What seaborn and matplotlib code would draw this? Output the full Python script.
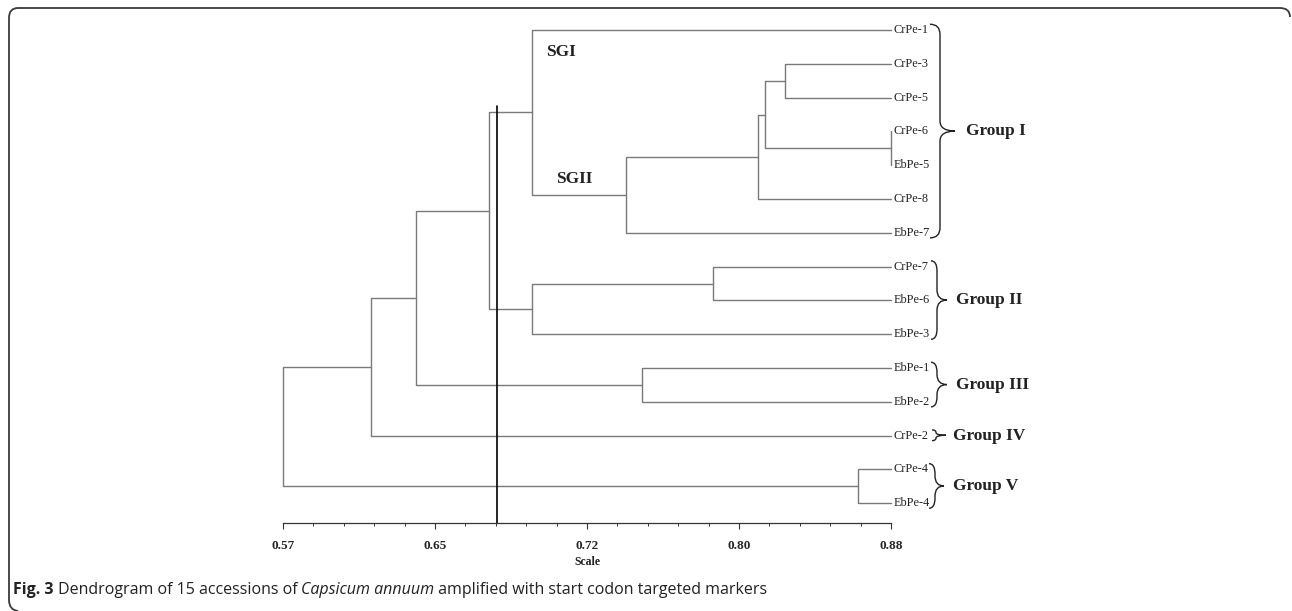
import numpy as np
import pandas as pd
import matplotlib
matplotlib.use("Agg")
import matplotlib.pyplot as plt
import matplotlib.transforms as mtransforms
from matplotlib.path import Path
from matplotlib.patches import PathPatch
import seaborn as sns

# ---------------- data ----------------
leaves = ["CrPe-1", "CrPe-3", "CrPe-5", "CrPe-6", "EbPe-5", "CrPe-8", "EbPe-7",
          "CrPe-7", "EbPe-6", "EbPe-3", "EbPe-1", "EbPe-2", "CrPe-2", "CrPe-4", "EbPe-4"]
node_names = ["m1", "m2", "m3", "m4", "m5", "m6", "m7", "m8", "m9", "m10", "m11", "m12", "m13", "m14"]
node_left = ["CrPe-6", "CrPe-3", "m2", "m3", "m4", "CrPe-1", "CrPe-7", "m7", "m6", "EbPe-1", "m9", "m11", "CrPe-4", "m12"]
node_right = ["EbPe-5", "CrPe-5", "m1", "CrPe-8", "EbPe-7", "m5", "EbPe-6", "EbPe-3", "m8", "EbPe-2", "m10", "CrPe-2", "EbPe-4", "m13"]
node_sim = [0.880, 0.826, 0.816, 0.812, 0.745, 0.697, 0.789, 0.697, 0.675, 0.753, 0.638, 0.615, 0.863, 0.570]
leaf_sim = 0.88
cut_value = 0.679

tick_values = [0.57, 0.6475, 0.725, 0.8025, 0.88]
tick_labels = ["0.57", "0.65", "0.72", "0.80", "0.88"]

group_names = ["Group I", "Group II", "Group III", "Group IV", "Group V"]
group_first = [0, 7, 10, 12, 13]
group_last = [6, 9, 11, 12, 14]

subgroup_names = ["SGI", "SGII"]

# ---------------- geometry of the tree ----------------
pos = {name: (leaf_sim, float(i)) for i, name in enumerate(leaves)}
rows = []
for k, (nm, a, b, s) in enumerate(zip(node_names, node_left, node_right, node_sim)):
    xa, ya = pos[a]
    xb, yb = pos[b]
    pts = [(xa, ya), (s, ya), (s, yb), (xb, yb)]
    for j, (px, py) in enumerate(pts):
        rows.append({"seg": k, "order": j, "x": px, "y": py})
    pos[nm] = (s, (ya + yb) / 2.0)
df = pd.DataFrame(rows)

# ---------------- figure ----------------
sns.set_theme(style="white")
plt.rcParams["font.family"] = ["Liberation Serif", "DejaVu Serif"]

W, H = 1292, 611
fig = plt.figure(figsize=(W / 100, H / 100), dpi=100)
fig.patch.set_facecolor("white")

y0px, dy = 30.0, 33.8
ax_top_px, ax_bot_px = 20.0, 523.0
ax = fig.add_axes([283 / W, 1 - ax_bot_px / H, 608 / W, (ax_bot_px - ax_top_px) / H])
ax.set_facecolor("none")

sns.lineplot(data=df, x="x", y="y", units="seg", estimator=None, sort=False,
             color="#7a7a7a", linewidth=1.0, ax=ax, legend=False)
for ln in ax.lines:
    ln.set_clip_on(False)

ax.set_xlim(0.57, 0.88)
ax.set_ylim((ax_bot_px - y0px) / dy, (ax_top_px - y0px) / dy)

# cut line
ax.plot([cut_value, cut_value], [(106 - y0px) / dy, (ax_bot_px - y0px) / dy],
        color="black", linewidth=1.2, clip_on=False)

for sp in ["top", "right", "left"]:
    ax.spines[sp].set_visible(False)
ax.spines["bottom"].set_color("#333333")
ax.spines["bottom"].set_linewidth(0.9)
ax.set_yticks([])
ax.set_xticks(tick_values)
ax.set_xticks(np.linspace(0.57, 0.88, 21), minor=True)
ax.set_xticklabels(tick_labels, fontfamily="Liberation Serif", fontweight="bold", fontsize=9.5)
ax.tick_params(axis="x", which="major", direction="out", length=4, width=0.8,
               color="#333333", pad=8, bottom=True)
ax.tick_params(axis="x", which="minor", direction="out", length=2.2, width=0.7,
               color="#333333", bottom=True)
ax.set_xlabel("")
ax.set_ylabel("")

bt = mtransforms.blended_transform_factory(fig.transFigure, ax.transData)

# leaf labels
for i, name in enumerate(leaves):
    ax.text(894 / W, i, name, transform=bt, ha="left", va="center",
            fontsize=8.8, color="#222222", fontfamily="Liberation Serif")

# braces and group labels
brace_x = [(930, 940, 955), (931, 937, 947), (931, 937, 947), (932, 936, 946), (929, 935, 944)]
label_x = [966, 956, 956, 953, 953]


def brace(ytop, ybot, xe, xm, xt, r):
    yc = (ytop + ybot) / 2.0
    r = min(r, (ybot - ytop) / 4.0)
    f = lambda v: v / W
    verts = [(f(xe), ytop), (f(xm), ytop), (f(xm), ytop + r),
             (f(xm), yc - r),
             (f(xm), yc), (f(xt), yc),
             (f(xm), yc), (f(xm), yc + r),
             (f(xm), ybot - r),
             (f(xm), ybot), (f(xe), ybot)]
    codes = [Path.MOVETO, Path.CURVE3, Path.CURVE3,
             Path.LINETO,
             Path.CURVE3, Path.CURVE3,
             Path.CURVE3, Path.CURVE3,
             Path.LINETO,
             Path.CURVE3, Path.CURVE3]
    p = PathPatch(Path(verts, codes), transform=bt, fill=False, edgecolor="#222222",
                  linewidth=1.0, clip_on=False)
    fig.add_artist(p)


for gname, a, b, (xe, xm, xt), lx in zip(group_names, group_first, group_last, brace_x, label_x):
    ytop = a - 0.17
    ybot = b + 0.15
    brace(ytop, ybot, xe, xm, xt, 0.3)
    ax.text(lx / W, (a + b) / 2.0, gname, transform=bt, ha="left", va="center",
            fontsize=12.5, fontweight="bold", color="#222222", fontfamily="Liberation Serif")

# subgroup labels
sg_pos = [(546, 52), (556, 179)]
for nm, (px, py) in zip(subgroup_names, sg_pos):
    ax.text(px / W, (py - y0px) / dy, nm, transform=bt, ha="left", va="center",
            fontsize=12.5, fontweight="bold", color="#222222", fontfamily="Liberation Serif")

# axis title
fig.text(587 / W, 1 - 562 / H, "Scale", ha="center", va="center", fontsize=8.5,
         fontweight="bold", fontfamily="Liberation Serif", color="#222222")

# frame
fv = lambda x, y: (x / W, 1 - y / H)
frame_verts = [fv(1290, 17), fv(1290, 8), fv(1280, 8),
               fv(18, 8),
               fv(9, 8), fv(9, 18),
               fv(9, 600),
               fv(9, 610), fv(18, 611)]
frame_codes = [Path.MOVETO, Path.CURVE3, Path.CURVE3, Path.LINETO,
               Path.CURVE3, Path.CURVE3, Path.LINETO, Path.CURVE3, Path.CURVE3]
fig.add_artist(PathPatch(Path(frame_verts, frame_codes), transform=fig.transFigure,
                         fill=False, edgecolor="#3a3a3a", linewidth=1.3))

# caption
renderer = fig.canvas.get_renderer()
cx = 13.0
cy = 1 - 594 / H
pieces = [("Fig. 3", "bold", "normal"),
          (" Dendrogram of 15 accessions of ", "normal", "normal"),
          ("Capsicum annuum", "normal", "italic"),
          (" amplified with start codon targeted markers", "normal", "normal")]
for txt, w, s in pieces:
    t = fig.text(cx / W, cy, txt, fontsize=11.5, fontfamily="Open Sans", fontweight=w,
                 fontstyle=s, ha="left", va="baseline", color="#222222")
    bb = t.get_window_extent(renderer)
    cx = bb.x1

fig.savefig("out.png", dpi=100, facecolor="white")
